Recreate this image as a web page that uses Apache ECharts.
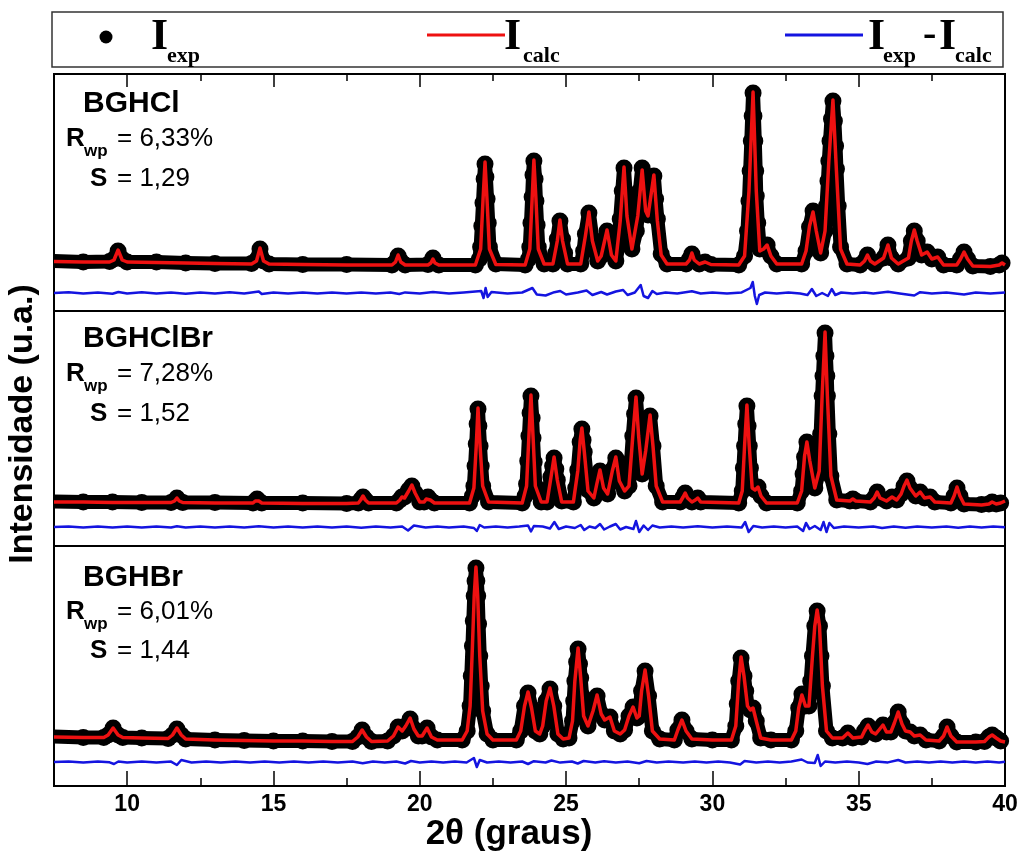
<!DOCTYPE html>
<html>
<head>
<meta charset="utf-8">
<script src="https://cdn.jsdelivr.net/npm/echarts@6/dist/echarts.min.js"></script>
<style>
html,body{margin:0;padding:0;background:#fff}
#chart{width:1025px;height:853px}
</style>
</head>
<body>
<div id="chart"></div>
<script>
// Rietveld refinement profiles, 2θ (graus) vs intensity (a.u.)
const sampleNames = ['BGHCl', 'BGHClBr', 'BGHBr'];
const rwpValues = ['6,33%', '7,28%', '6,01%'];
const sValues = ['1,29', '1,52', '1,44'];
const majorTicks = [10, 15, 20, 25, 30, 35, 40];
const minorTicks = [12.5, 17.5, 22.5, 27.5, 32.5, 37.5];

// BGHCl
const obsBGHCl = [[7.5,50],[8.5,49],[9.4,49.5],[9.55,52],[9.69,60],[9.83,52],[10,49],[11,49],[12,48],[13,47.5],[14.25,47.5],[14.42,51],[14.54,62],[14.66,50],[14.85,47],[16,46.5],[17.5,46.5],[19.05,46],[19.17,49],[19.26,55],[19.35,50],[19.5,46],[20.28,46.5],[20.38,48],[20.45,53],[20.52,48],[20.65,46],[21.9,46],[22.04,52],[22.08,64],[22.12,85],[22.16,108],[22.2,132],[22.23,147],[22.26,134],[22.3,112],[22.34,88],[22.38,64],[22.6,47],[23.6,46],[23.72,52],[23.76,64],[23.8,88],[23.84,114],[23.87,136],[23.9,150],[23.94,132],[23.97,110],[24.01,86],[24.05,64],[24.25,47],[24.55,47],[24.65,58],[24.7,72],[24.79,90],[24.88,72],[24.95,58],[25.05,47],[25.5,47],[25.6,60],[25.66,77],[25.78,98],[25.9,72],[26.08,50],[26.2,55],[26.3,68],[26.4,80],[26.55,57],[26.7,50],[26.8,68],[26.85,92],[26.92,120],[26.98,143],[27.03,120],[27.08,96],[27.25,62],[27.4,80],[27.45,97],[27.52,120],[27.6,143],[27.66,120],[27.72,100],[27.8,96],[27.9,116],[28.0,135],[28.06,112],[28.12,92],[28.25,57],[28.45,47],[29.1,47],[29.22,52],[29.3,57],[29.38,51],[29.55,47],[29.75,49],[29.95,46.5],[30.9,46],[31.1,55],[31.2,80],[31.25,110],[31.29,140],[31.33,170],[31.36,195],[31.39,218],[31.42,195],[31.45,170],[31.48,140],[31.5,115],[31.55,88],[31.62,62],[31.75,62],[31.87,66],[32.0,55],[32.2,47],[33.05,47],[33.2,60],[33.32,84],[33.44,100],[33.55,80],[33.7,58],[33.85,80],[33.9,105],[33.95,130],[33.98,150],[34.02,170],[34.07,192],[34.12,210],[34.17,190],[34.21,165],[34.24,142],[34.3,105],[34.38,64],[34.6,47],[35.05,46],[35.2,50],[35.3,56],[35.4,50],[35.55,47],[35.85,53],[36.0,66],[36.12,53],[36.35,47],[36.7,53],[36.8,70],[36.9,80],[37.0,70],[37.15,56],[37.34,59],[37.5,52],[37.7,54],[37.9,46],[38.35,46],[38.48,52],[38.6,59],[38.72,52],[38.9,45],[39.5,44.5],[39.8,46],[39.9,48],[40,46]];
const calcBGHCl = [[7.5,49.5],[8.5,49],[9.4,49],[9.55,51],[9.69,61],[9.83,51],[10,49],[11,48.5],[12,48],[13,47.5],[14.25,47],[14.42,50],[14.54,63],[14.66,50],[14.85,47],[16,46.5],[17.5,46],[19.05,46],[19.17,49],[19.26,56],[19.35,49],[19.5,46],[20.28,46],[20.38,48],[20.45,52],[20.52,48],[20.65,46],[21.9,46],[22.08,62],[22.16,110],[22.23,149],[22.3,110],[22.38,62],[22.6,46.5],[23.6,46],[23.76,62],[23.84,112],[23.9,151],[23.97,112],[24.05,62],[24.25,47],[24.55,47],[24.7,70],[24.79,91],[24.88,70],[25.05,47],[25.5,47],[25.66,75],[25.78,99],[25.9,70],[26.08,50],[26.2,55],[26.4,81],[26.55,56],[26.7,50],[26.85,90],[26.98,144],[27.08,95],[27.25,62],[27.45,95],[27.6,141],[27.72,100],[27.8,95],[28.0,136],[28.12,90],[28.25,56],[28.45,47],[29.1,47],[29.22,51],[29.3,58],[29.38,51],[29.55,47],[29.75,49],[29.95,46.5],[30.9,46],[31.1,55],[31.25,120],[31.39,219],[31.5,120],[31.62,60],[31.75,62],[31.87,66],[32.0,55],[32.2,47],[33.05,47],[33.2,60],[33.32,85],[33.44,99],[33.55,80],[33.7,58],[33.85,80],[33.98,150],[34.12,211],[34.24,140],[34.38,62],[34.6,47],[35.05,46],[35.2,50],[35.3,56],[35.4,50],[35.55,47],[35.85,53],[36.0,66],[36.12,53],[36.35,47],[36.7,53],[36.8,70],[36.9,81],[37.0,70],[37.15,56],[37.34,59],[37.5,52],[37.7,54],[37.9,46],[38.35,46],[38.48,52],[38.6,59],[38.72,52],[38.9,45],[39.5,44.5],[39.8,46],[39.9,48],[40,46]];
const diffBGHCl = [[7.5,0],[8,0.8],[8.5,-0.5],[9,0.6],[9.5,-0.8],[9.7,1],[10,-0.5],[10.5,0.7],[11,-0.6],[11.5,0.5],[12,-0.7],[12.5,0.6],[13,-0.4],[13.5,0.8],[14,-0.6],[14.5,1.5],[14.6,-1],[15,0.5],[15.5,-0.6],[16,0.5],[16.5,-0.5],[17,0.6],[17.5,-0.6],[18,0.4],[18.5,-0.5],[19,0.6],[19.3,-1],[19.5,0.6],[20,-0.4],[20.45,1],[21,-0.5],[21.5,0.6],[22.1,2],[22.18,-5],[22.25,5],[22.32,-4],[22.45,1],[23,-0.5],[23.5,0.5],[23.85,5],[24,-1.5],[24.3,-2.5],[24.6,0.8],[24.8,2],[25,-1.5],[25.4,0.5],[25.7,2.5],[25.9,-2],[26.2,1],[26.4,-1.5],[26.7,1.5],[26.95,3],[27.1,-2],[27.35,0.5],[27.55,8],[27.65,-3],[27.8,-5],[27.95,2],[28.1,-1],[28.4,0.5],[28.8,-0.6],[29.3,1.8],[29.6,-0.5],[30,0.6],[30.5,-0.5],[31,0.6],[31.3,5],[31.38,11],[31.45,-3],[31.52,-11],[31.6,-2],[31.8,0.5],[32.2,-0.6],[32.6,0.5],[33,-0.6],[33.25,-2],[33.4,4],[33.55,-3],[33.75,0],[33.95,-3],[34.08,4],[34.2,-2],[34.4,0.5],[34.8,-0.5],[35.2,0.6],[35.5,-0.6],[36,1.2],[36.4,-0.5],[36.9,-2.5],[37.1,0.8],[37.5,-0.5],[38,0.6],[38.6,-1.5],[39,0.5],[39.5,-0.6],[40,0.4]];

// BGHClBr
const obsBGHClBr = [[7.5,44.5],[8.5,44],[9.5,44],[10.5,43.5],[11.5,43.5],[11.62,45],[11.7,48],[11.78,45],[11.9,43.5],[13,43.5],[14.3,43],[14.38,45],[14.44,47],[14.5,45],[14.6,43],[16,43],[17.5,42.5],[17.9,43],[17.98,46],[18.06,49],[18.14,46],[18.25,43],[19.2,43],[19.32,46],[19.39,49],[19.48,49],[19.55,52],[19.62,56],[19.73,60],[19.84,53],[20.0,44],[20.15,44],[20.22,47],[20.28,49],[20.36,46],[20.5,43],[21.7,43],[21.8,50],[21.85,60],[21.89,80],[21.93,102],[21.96,122],[21.99,137],[22.02,120],[22.06,100],[22.1,80],[22.15,60],[22.35,44],[23.5,43],[23.6,50],[23.65,62],[23.69,85],[23.73,110],[23.77,133],[23.8,150],[23.84,128],[23.87,108],[23.91,84],[23.95,60],[24.15,44],[24.35,44],[24.42,56],[24.48,69],[24.54,80],[24.59,88],[24.65,77],[24.7,66],[24.85,45],[25.25,44],[25.33,58],[25.4,76],[25.48,104],[25.54,117],[25.58,106],[25.62,94],[25.75,56],[25.95,48],[26.05,62],[26.16,75],[26.28,58],[26.42,52],[26.5,64],[26.58,76],[26.7,88],[26.82,65],[27.0,55],[27.15,60],[27.22,85],[27.28,110],[27.34,132],[27.39,148],[27.44,128],[27.48,110],[27.6,72],[27.66,84],[27.72,96],[27.8,116],[27.87,130],[27.97,100],[28.08,60],[28.3,44],[28.9,44],[29.0,49],[29.07,53],[29.15,48],[29.3,44],[29.42,46],[29.5,48],[29.6,44],[30.9,43],[31.02,55],[31.06,78],[31.1,100],[31.14,122],[31.18,140],[31.22,120],[31.26,100],[31.3,78],[31.36,58],[31.46,56],[31.56,59],[31.66,50],[31.85,43],[32.9,43],[33.05,55],[33.1,72],[33.15,89],[33.23,104],[33.33,85],[33.5,58],[33.65,75],[33.7,112],[33.75,150],[33.78,170],[33.81,190],[33.85,213],[33.88,190],[33.91,170],[33.93,150],[33.98,112],[34.05,70],[34.25,46],[34.7,45],[34.8,47],[34.9,45],[35.4,44],[35.53,48],[35.63,54],[35.73,48],[35.95,45],[36.14,49],[36.3,46],[36.45,52],[36.55,60],[36.65,65],[36.75,58],[36.95,50],[37.1,54],[37.25,48],[37.44,49],[37.6,44],[38.15,43],[38.26,50],[38.36,58],[38.46,50],[38.6,42],[39.2,41.5],[39.45,42],[39.56,44],[39.7,42],[39.85,43],[40,45]];
const calcBGHClBr = [[7.5,44],[8.5,44],[9.5,43.5],[10.5,43.5],[11.5,43.5],[11.62,45],[11.7,48],[11.78,45],[11.9,43.5],[13,43],[14.3,43],[14.38,45],[14.44,47],[14.5,45],[14.6,43],[16,42.5],[17.5,42.5],[17.9,43],[17.98,46],[18.06,50],[18.14,46],[18.25,43],[19.2,43],[19.32,46],[19.39,49],[19.48,48],[19.62,55],[19.73,61],[19.84,53],[20.0,44],[20.15,44],[20.22,47],[20.28,49],[20.36,46],[20.5,43],[21.7,43],[21.85,58],[21.93,100],[21.99,138],[22.06,100],[22.15,60],[22.35,44],[23.5,43],[23.65,60],[23.73,110],[23.8,151],[23.87,110],[23.95,60],[24.15,44],[24.35,44],[24.48,68],[24.59,89],[24.7,66],[24.85,44],[25.25,44],[25.4,75],[25.48,105],[25.54,118],[25.62,95],[25.75,55],[25.95,48],[26.05,62],[26.16,76],[26.28,58],[26.42,52],[26.58,75],[26.7,89],[26.82,65],[27.0,55],[27.15,60],[27.28,110],[27.39,149],[27.48,110],[27.6,72],[27.72,95],[27.87,131],[27.97,100],[28.08,60],[28.3,44],[28.9,44],[29.0,49],[29.07,53],[29.15,48],[29.3,44],[29.42,46],[29.5,48],[29.6,44],[30.9,43],[31.02,55],[31.1,100],[31.18,141],[31.26,100],[31.36,58],[31.46,56],[31.56,59],[31.66,50],[31.85,43],[32.9,43],[33.05,55],[33.15,90],[33.23,104],[33.33,85],[33.5,58],[33.65,75],[33.75,150],[33.85,214],[33.93,150],[34.05,70],[34.25,46],[34.7,45],[34.8,47],[34.9,45],[35.4,44],[35.53,48],[35.63,54],[35.73,48],[35.95,45],[36.14,49],[36.3,46],[36.45,52],[36.55,60],[36.65,66],[36.75,58],[36.95,50],[37.1,54],[37.25,48],[37.44,49],[37.6,44],[38.15,43],[38.26,50],[38.36,59],[38.46,50],[38.6,42],[39.2,41],[39.45,42],[39.56,44],[39.7,42],[39.85,43],[40,45]];
const diffBGHClBr = [[7.5,0],[8,0.6],[8.5,-0.5],[9,0.5],[9.5,-0.6],[10,0.5],[10.5,-0.4],[11,0.6],[11.5,-0.5],[11.7,0.8],[12,-0.5],[12.5,0.5],[13,-0.6],[13.5,0.4],[14,-0.5],[14.5,0.7],[15,-0.5],[15.5,0.5],[16,-0.6],[16.5,0.5],[17,-0.4],[17.5,0.6],[18,-0.8],[18.5,0.5],[19,-0.4],[19.4,0.5],[19.6,-3.5],[19.8,1.5],[20.2,-0.5],[20.6,0.5],[21,-0.4],[21.5,0.5],[21.85,-1],[21.95,-4],[22.05,2],[22.2,-0.5],[22.6,0.6],[23,-0.4],[23.4,0.5],[23.7,1.5],[23.8,-4.5],[23.9,1],[24.2,0.5],[24.45,-1.5],[24.6,5],[24.75,-2],[25,0.5],[25.3,-1],[25.5,2],[25.62,-3],[25.8,0.5],[26,-1],[26.16,3],[26.3,-2.5],[26.5,0.5],[26.7,3],[26.85,-2.5],[27.05,0],[27.3,-2],[27.39,6],[27.5,-5],[27.65,1.5],[27.8,-3],[27.95,1.5],[28.2,-0.5],[28.6,0.5],[29.0,-0.6],[29.5,0.8],[30,-0.5],[30.5,0.6],[31.0,-0.5],[31.12,5],[31.24,-5],[31.4,1],[31.7,-0.5],[32.1,0.5],[32.5,-0.6],[32.9,0.5],[33.1,-4],[33.2,4],[33.32,-2],[33.5,1],[33.7,-3],[33.8,5],[33.9,-5],[34.0,4],[34.15,-1],[34.5,0.5],[35,-0.6],[35.5,0.5],[35.8,-1],[36.2,0.6],[36.6,-0.8],[37,0.6],[37.5,-0.5],[38,0.5],[38.4,-0.8],[38.8,0.5],[39.2,-0.5],[39.6,0.6],[40,-0.3]];

// BGHBr
const obsBGHBr = [[7.5,49.5],[8.5,48.5],[9.2,48.5],[9.35,51],[9.52,58],[9.69,51],[9.85,48.5],[10.5,48],[11.4,47.5],[11.55,51],[11.7,57],[11.85,51],[12.0,47],[13,46],[14,45.5],[15,45],[16,45],[17,44.5],[17.7,44.5],[17.88,49],[18.03,56],[18.18,49],[18.35,44.5],[18.9,45],[19.1,50],[19.26,59],[19.4,55],[19.52,60],[19.67,67],[19.8,57],[19.95,50],[20.08,50],[20.25,58],[20.4,49],[20.6,46],[21.45,46],[21.62,55],[21.72,80],[21.76,110],[21.8,140],[21.83,165],[21.86,190],[21.89,205],[21.92,218],[21.95,205],[21.98,190],[22.01,162],[22.05,130],[22.1,100],[22.15,75],[22.3,52],[22.5,46],[23.3,46],[23.45,55],[23.58,80],[23.7,93],[23.82,78],[23.95,55],[24.1,52],[24.2,60],[24.32,85],[24.45,97],[24.58,80],[24.72,52],[24.9,47],[25.1,48],[25.22,65],[25.26,85],[25.3,105],[25.36,124],[25.41,137],[25.46,122],[25.5,108],[25.55,90],[25.6,70],[25.75,60],[25.92,75],[26.06,90],[26.2,72],[26.32,66],[26.5,69],[26.65,55],[26.85,52],[27.0,56],[27.15,70],[27.29,79],[27.42,68],[27.5,70],[27.58,95],[27.7,115],[27.82,90],[27.95,55],[28.2,47],[28.7,46],[28.82,56],[28.96,66],[29.1,55],[29.3,47],[30.0,46],[30.65,46],[30.8,60],[30.85,82],[30.9,105],[30.98,128],[31.08,110],[31.14,95],[31.2,80],[31.3,76],[31.39,78],[31.5,65],[31.65,48],[32.0,46],[32.7,46],[32.85,55],[32.95,78],[33.06,92],[33.18,80],[33.3,80],[33.36,105],[33.42,130],[33.5,160],[33.58,175],[33.66,160],[33.71,130],[33.76,100],[33.9,55],[34.1,48],[34.45,48],[34.63,53],[34.8,48],[35.1,49],[35.2,55],[35.32,60],[35.45,54],[35.58,52],[35.72,57],[35.83,61],[35.95,54],[36.1,54],[36.22,63],[36.35,74],[36.48,62],[36.6,55],[36.76,54],[36.9,50],[37.1,51],[37.3,46],[37.75,45],[37.9,50],[38.02,59],[38.15,50],[38.35,44],[39.0,44],[39.3,44.5],[39.45,49],[39.56,51],[39.7,48],[39.85,45],[40,44]];
const calcBGHBr = [[7.5,49],[8.5,48.5],[9.2,48.5],[9.35,51],[9.52,58],[9.69,51],[9.85,48.5],[10.5,48],[11.4,47.5],[11.55,51],[11.7,58],[11.85,51],[12.0,47],[13,46],[14,45.5],[15,45],[16,45],[17,44.5],[17.7,44.5],[17.88,49],[18.03,56],[18.18,49],[18.35,44.5],[18.9,45],[19.1,50],[19.26,59],[19.4,55],[19.52,60],[19.67,68],[19.8,57],[19.95,50],[20.08,50],[20.25,58],[20.4,49],[20.6,46],[21.45,46],[21.62,55],[21.72,80],[21.8,140],[21.86,190],[21.92,219],[21.98,190],[22.05,130],[22.15,75],[22.3,52],[22.5,46],[23.3,46],[23.45,55],[23.58,80],[23.7,94],[23.82,78],[23.95,55],[24.1,52],[24.2,60],[24.32,85],[24.45,98],[24.58,80],[24.72,52],[24.9,47],[25.1,48],[25.22,65],[25.3,105],[25.41,138],[25.5,108],[25.6,70],[25.75,60],[25.92,75],[26.06,91],[26.2,72],[26.32,66],[26.5,69],[26.65,55],[26.85,52],[27.0,56],[27.15,70],[27.29,79],[27.42,68],[27.5,70],[27.58,95],[27.7,116],[27.82,90],[27.95,55],[28.2,47],[28.7,46],[28.82,56],[28.96,66],[29.1,55],[29.3,47],[30.0,46],[30.65,46],[30.8,60],[30.9,105],[30.98,129],[31.08,110],[31.2,80],[31.3,76],[31.39,78],[31.5,65],[31.65,48],[32.0,46],[32.7,46],[32.85,55],[32.95,78],[33.06,91],[33.18,80],[33.3,80],[33.42,130],[33.5,160],[33.58,176],[33.66,160],[33.76,100],[33.9,55],[34.1,48],[34.45,48],[34.63,53],[34.8,48],[35.1,49],[35.2,55],[35.32,61],[35.45,54],[35.58,52],[35.72,57],[35.83,61],[35.95,54],[36.1,54],[36.22,63],[36.35,74],[36.48,62],[36.6,55],[36.76,54],[36.9,50],[37.1,51],[37.3,46],[37.75,45],[37.9,50],[38.02,59],[38.15,50],[38.35,44],[39.0,44],[39.3,44.5],[39.45,49],[39.56,51],[39.7,48],[39.85,45],[40,44]];
const diffBGHBr = [[7.5,0],[8,0.6],[8.5,-0.5],[9,0.5],[9.4,-0.3],[9.55,-2],[9.7,0.5],[10,-0.4],[10.5,0.5],[11,-0.5],[11.5,0.4],[11.7,-3],[11.85,2],[12.2,-0.5],[12.7,0.5],[13.2,-0.4],[13.7,0.5],[14.2,-0.6],[14.7,0.5],[15.2,-0.4],[15.7,0.6],[16.2,-0.5],[16.7,0.4],[17.2,-0.5],[17.7,0.6],[18.05,-1.2],[18.4,0.5],[18.8,-0.4],[19.2,0.5],[19.5,-1.5],[19.7,1],[20.0,-0.6],[20.4,0.5],[20.8,-0.4],[21.2,0.4],[21.6,-0.5],[21.85,4],[21.95,-5],[22.05,2],[22.3,-0.5],[22.7,0.5],[23.1,-0.4],[23.5,0.5],[23.7,-2],[23.9,0.8],[24.3,-0.5],[24.5,1.5],[24.8,-0.6],[25.2,0.5],[25.4,-1.5],[25.6,1],[26.0,-0.6],[26.3,0.8],[26.7,-0.5],[27.1,0.6],[27.5,-1.2],[27.75,1],[28.1,-0.5],[28.5,0.5],[29.0,-0.6],[29.4,0.5],[29.8,-0.4],[30.2,0.5],[30.6,-0.5],[30.95,-2.5],[31.1,1],[31.5,-0.5],[31.9,0.4],[32.3,-0.5],[32.7,0.5],[33.05,2.5],[33.25,-0.5],[33.5,-1],[33.6,7],[33.7,-4],[33.85,0.5],[34.2,-0.4],[34.6,0.5],[35.0,-0.4],[35.3,-2],[35.6,0.5],[36.0,-0.4],[36.35,2],[36.6,-0.5],[37.0,0.5],[37.4,-0.4],[37.8,0.5],[38.2,-0.5],[38.6,0.5],[39.0,-0.4],[39.4,0.5],[39.8,-0.5],[40,0.3]];

// ---- layout ----
const X_MIN = 7.5, X_MAX = 40;
const PLOT_LEFT = 54, PLOT_WIDTH = 951;
const panels = [
  { top: 74,  height: 237, obs: obsBGHCl,   calc: calcBGHCl,   diff: diffBGHCl,   diffBase: 18, textDy: [30, 65, 105] },
  { top: 311, height: 235, obs: obsBGHClBr, calc: calcBGHClBr, diff: diffBGHClBr, diffBase: 19, textDy: [28, 63, 103] },
  { top: 546, height: 240, obs: obsBGHBr,   calc: calcBGHBr,   diff: diffBGHBr,   diffBase: 24, textDy: [32, 66, 105] }
];

const SANS = '"Liberation Sans", Arial, sans-serif';
const SERIF = '"Liberation Serif", "Times New Roman", serif';
const RED = '#ee1111';
const BLUE = '#1414e0';

// three framed panels + two frameless overlays carrying the minor ticks
const grids = panels.map(p => ({
  left: PLOT_LEFT, width: PLOT_WIDTH, top: p.top, height: p.height,
  show: true, borderColor: '#000', borderWidth: 2, backgroundColor: 'transparent'
}));
grids.push({ left: PLOT_LEFT, width: PLOT_WIDTH, top: panels[0].top, height: panels[0].height, show: false });
grids.push({ left: PLOT_LEFT, width: PLOT_WIDTH, top: panels[2].top, height: panels[2].height, show: false });

function baseX(gridIndex) {
  return { type: 'value', gridIndex, min: X_MIN, max: X_MAX, interval: 2.5,
    splitLine: { show: false }, axisLine: { show: false, onZero: false } };
}
const tickLine = { color: '#000', width: 1.5 };

const xAxes = [
  Object.assign(baseX(0), { position: 'top',
    axisTick: { show: true, inside: true, length: 13, customValues: majorTicks, lineStyle: tickLine },
    axisLabel: { show: false } }),
  Object.assign(baseX(1), { show: false }),
  Object.assign(baseX(2), { position: 'bottom',
    axisTick: { show: true, inside: true, length: 15, customValues: majorTicks, lineStyle: tickLine },
    axisLabel: { show: true, margin: 7, customValues: majorTicks,
      formatter: v => (v % 5 === 0 ? String(v) : ''),
      color: '#000', fontFamily: SANS, fontWeight: 'bold', fontSize: 23 } }),
  Object.assign(baseX(3), { position: 'top',
    axisTick: { show: true, inside: true, length: 7, customValues: minorTicks, lineStyle: tickLine },
    axisLabel: { show: false } }),
  Object.assign(baseX(4), { position: 'bottom',
    axisTick: { show: true, inside: true, length: 8, customValues: minorTicks, lineStyle: tickLine },
    axisLabel: { show: false } })
];

const yAxes = panels.map((p, i) => ({ type: 'value', gridIndex: i, min: 0, max: p.height, show: false }));
yAxes.push({ type: 'value', gridIndex: 3, min: 0, max: 1, show: false });
yAxes.push({ type: 'value', gridIndex: 4, min: 0, max: 1, show: false });

// observed points: no marker on the two end points so nothing spills past the frame
function obsData(arr) {
  return arr.map(d => (d[0] <= X_MIN || d[0] >= X_MAX) ? { value: d, symbol: 'none' } : d);
}

const series = [];
panels.forEach((p, i) => {
  series.push({
    name: 'Iexp', type: 'line', xAxisIndex: i, yAxisIndex: i, data: obsData(p.obs),
    symbol: 'circle', symbolSize: 17, showAllSymbol: true,
    itemStyle: { color: '#000' },
    lineStyle: { color: '#000', width: 14, join: 'round', cap: 'butt' },
    z: 2, silent: true
  });
  series.push({
    name: 'Icalc', type: 'line', xAxisIndex: i, yAxisIndex: i, data: p.calc,
    showSymbol: false, lineStyle: { color: RED, width: 3.5, join: 'round' }, z: 3, silent: true
  });
  series.push({
    name: 'Iexp - Icalc', type: 'line', xAxisIndex: i, yAxisIndex: i,
    data: p.diff.map(d => [d[0], p.diffBase + d[1]]),
    showSymbol: false, lineStyle: { color: BLUE, width: 2.5, join: 'round' }, z: 3, silent: true
  });
});

// ---- text and legend box ----
const graphic = [];
function txt(x, y, text, font, extra) {
  graphic.push(Object.assign({ type: 'text', x, y, z: 10,
    style: { text, font, fill: '#000', align: 'left', verticalAlign: 'middle' } }, extra || {}));
}

graphic.push({ type: 'rect', z: 5, shape: { x: 52, y: 12, width: 951, height: 55 },
  style: { fill: '#fff', stroke: '#333', lineWidth: 1.5 } });
graphic.push({ type: 'circle', z: 10, shape: { cx: 106, cy: 37, r: 6.5 }, style: { fill: '#000' } });
graphic.push({ type: 'line', z: 10, shape: { x1: 427, y1: 35, x2: 505, y2: 35 }, style: { stroke: RED, lineWidth: 3 } });
graphic.push({ type: 'line', z: 10, shape: { x1: 785, y1: 35, x2: 863, y2: 35 }, style: { stroke: BLUE, lineWidth: 3 } });
const bigI = 'bold 44px ' + SERIF, subF = 'bold 22px ' + SERIF;
txt(151, 38, 'I', bigI); txt(167, 56, 'exp', subF);
txt(504, 38, 'I', bigI); txt(523, 56, 'calc', subF);
txt(868, 38, 'I', bigI); txt(883, 56, 'exp', subF);
txt(923, 36, '-', 'bold 40px ' + SERIF);
txt(939, 38, 'I', bigI); txt(955, 56, 'calc', subF);

panels.forEach((p, i) => {
  const [d1, d2, d3] = p.textDy;
  txt(83, p.top + d1, sampleNames[i], 'bold 30px ' + SANS);
  txt(66, p.top + d2, 'R', 'bold 26px ' + SANS);
  txt(84, p.top + d2 + 12, 'wp', 'bold 17px ' + SANS);
  txt(117, p.top + d2, '= ' + rwpValues[i], '26px ' + SANS);
  txt(90, p.top + d3, 'S', 'bold 26px ' + SANS);
  txt(117, p.top + d3, '= ' + sValues[i], '26px ' + SANS);
});

// axis titles
graphic.push({ type: 'text', x: 23, y: 424, rotation: Math.PI / 2, z: 10,
  style: { text: 'Intensidade (u.a.)', font: 'bold 34px ' + SANS, fill: '#000', align: 'center', verticalAlign: 'middle' } });
graphic.push({ type: 'text', x: 509, y: 834, z: 10,
  style: { text: '2θ (graus)', font: 'bold 35px ' + SANS, fill: '#000', align: 'center', verticalAlign: 'middle' } });

const chart = echarts.init(document.getElementById('chart'), null, { renderer: 'canvas' });
chart.setOption({
  animation: false,
  backgroundColor: '#fff',
  grid: grids,
  xAxis: xAxes,
  yAxis: yAxes,
  series,
  graphic
});
</script>
</body>
</html>
